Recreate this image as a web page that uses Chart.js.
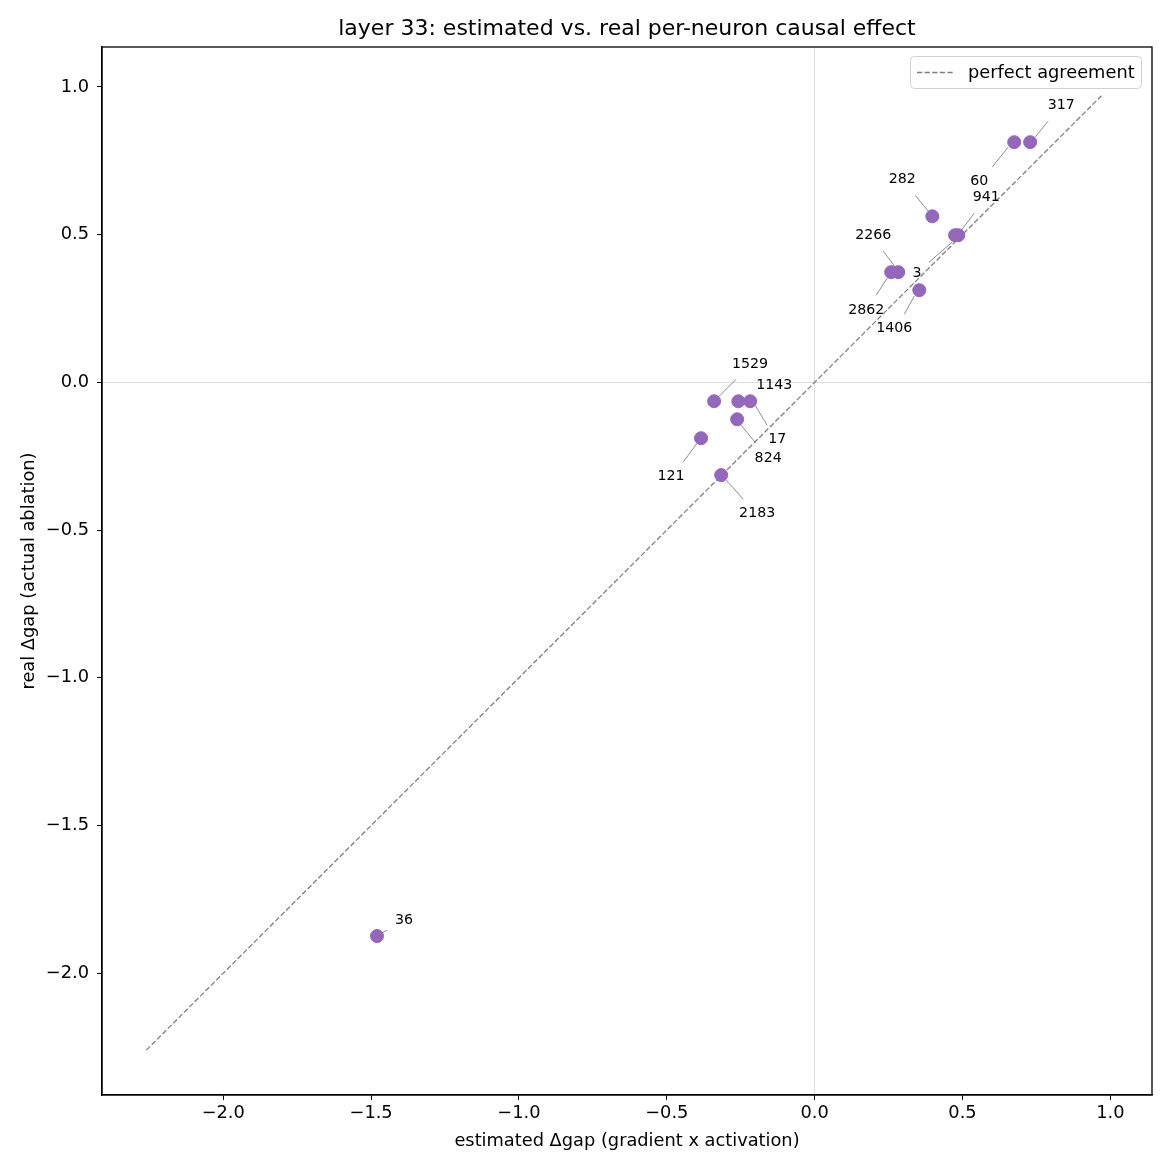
<!DOCTYPE html>
<html>
<head>
<meta charset="utf-8">
<script src="https://cdn.jsdelivr.net/npm/chart.js@4.4.1/dist/chart.umd.min.js"></script>
<style>
  html, body { margin: 0; padding: 0; background: #ffffff; }
  #wrap { width: 1170px; height: 1170px; position: relative; }
</style>
</head>
<body>
<div id="wrap"><canvas id="scatterChart" width="1170" height="1170"></canvas></div>
<script>
// tick labels
const xTicks = [-2.0, -1.5, -1.0, -0.5, 0.0, 0.5, 1.0];
const yTicks = [-2.0, -1.5, -1.0, -0.5, 0.0, 0.5, 1.0];

// neuron ids and their estimated / real effect
const neuronIds = ['317', '60', '282', '941', '3', '2266', '2862', '1406', '1529', '1143', '17', '824', '121', '2183', '36'];
const estimated = [0.729, 0.675, 0.398, 0.486, 0.475, 0.283, 0.259, 0.354, -0.340, -0.258, -0.218, -0.262, -0.384, -0.316, -1.480];
const real = [0.813, 0.813, 0.562, 0.498, 0.498, 0.373, 0.373, 0.312, -0.064, -0.064, -0.064, -0.125, -0.189, -0.314, -1.874];

// perfect agreement line (y = x)
const diagonal = [-2.26, 0.97];

// label placement (pixel offsets from the point): text centre, leader line start/end
const labelText = [[31, -37], [-35, 39], [-30, -37], [28, -38], [-38, 38], [-25, -37], [-25, 38], [-25, 38], [36, -37], [36, -16], [27, 38], [31, 39], [-30, 38], [36, 38], [27, -16]];
const labelLine = [
    [5, -5, 18, -21], [-6, 5, -22, 25], [-4, -5, -17, -21], [3, -5, 16, -22], [-3, 7, -26, 27],
    [-3, -5, -15, -21], [-4, 6, -15, 23], [-5, 6, -15, 24], [4, -4, 22, -22], null,
    [5, 4, 17, 24], [4, 6, 18, 23], [-4, 5, -18, 24], [5, 5, 22, 24], [5, -3, 10, -6]
];

const FONT = "'DejaVu Sans', sans-serif";
Chart.defaults.font.family = FONT;
Chart.defaults.color = '#000000';

const fmt = v => (v < 0 ? '\u2212' : '') + Math.abs(v).toFixed(1);

// box frame, neuron labels and the legend
const decorations = {
    id: 'decorations',
    afterDatasetsDraw(chart) {
        const { ctx, chartArea, scales } = chart;
        ctx.save();

        // leader lines + labels
        ctx.font = '14.2px ' + FONT;
        ctx.textAlign = 'center';
        ctx.textBaseline = 'middle';
        neuronIds.forEach((id, i) => {
            const px = scales.x.getPixelForValue(estimated[i]);
            const py = scales.y.getPixelForValue(real[i]);
            const ln = labelLine[i];
            if (ln) {
                ctx.strokeStyle = '#808080';
                ctx.lineWidth = 0.9;
                ctx.beginPath();
                ctx.moveTo(px + ln[0], py + ln[1]);
                ctx.lineTo(px + ln[2], py + ln[3]);
                ctx.stroke();
            }
            ctx.fillStyle = '#000000';
            ctx.fillText(id, px + labelText[i][0], py + labelText[i][1]);
        });

        // legend
        const lx = chartArea.right - 242, ly = chartArea.top + 9, lw = 231, lh = 32;
        ctx.fillStyle = 'rgba(255,255,255,0.8)';
        ctx.strokeStyle = '#d0d0d0';
        ctx.lineWidth = 1;
        ctx.beginPath();
        ctx.roundRect(lx + 0.5, ly + 0.5, lw, lh, 4);
        ctx.fill();
        ctx.stroke();
        ctx.strokeStyle = '#808080';
        ctx.lineWidth = 1.3;
        ctx.setLineDash([5.3, 2.3]);
        ctx.beginPath();
        ctx.moveTo(lx + 7, ly + lh / 2 + 0.5);
        ctx.lineTo(lx + 44, ly + lh / 2 + 0.5);
        ctx.stroke();
        ctx.setLineDash([]);
        ctx.fillStyle = '#000000';
        ctx.font = '17.8px ' + FONT;
        ctx.textAlign = 'left';
        ctx.fillText('perfect agreement', lx + 58, ly + lh / 2 + 1);

        // spines
        ctx.strokeStyle = '#000000';
        ctx.lineWidth = 1.3;
        ctx.strokeRect(chartArea.left, chartArea.top, chartArea.right - chartArea.left, chartArea.bottom - chartArea.top);
        ctx.restore();
    }
};

new Chart(document.getElementById('scatterChart'), {
    type: 'scatter',
    data: {
        datasets: [
            {
                label: 'neurons',
                data: estimated.map((v, i) => ({ x: v, y: real[i] })),
                backgroundColor: '#9467bd',
                borderColor: '#9467bd',
                pointRadius: 6.5,
                pointHoverRadius: 6.5,
                order: 1
            },
            {
                label: 'perfect agreement',
                type: 'line',
                data: diagonal.map(v => ({ x: v, y: v })),
                borderColor: '#808080',
                borderWidth: 1.3,
                borderDash: [5.3, 2.3],
                pointRadius: 0,
                fill: false,
                order: 2
            }
        ]
    },
    options: {
        responsive: false,
        animation: false,
        layout: { padding: { left: 0, right: 18, top: 0, bottom: 0 } },
        plugins: {
            legend: { display: false },
            tooltip: { enabled: false },
            title: {
                display: true,
                fullSize: false, // centre over the plot area, like matplotlib
                text: 'layer 33: estimated vs. real per-neuron causal effect',
                font: { size: 22, weight: 'normal', family: FONT },
                color: '#000000',
                padding: { top: 16, bottom: 4.6 }
            }
        },
        scales: {
            x: {
                type: 'linear',
                min: -2.41,
                max: 1.141,
                afterBuildTicks: s => { s.ticks = xTicks.map(v => ({ value: v })); },
                afterFit: s => { s.height = 75; },
                ticks: { callback: fmt, font: { size: 17.8 }, color: '#000000', padding: 3, maxRotation: 0 },
                grid: {
                    color: c => (c.tick && c.tick.value === 0 ? '#dddddd' : 'rgba(0,0,0,0)'),
                    tickColor: '#000000',
                    tickLength: 5,
                    lineWidth: 1
                },
                border: { display: true, color: '#000000', width: 1.3 },
                title: {
                    display: true,
                    text: 'estimated \u0394gap (gradient x activation)',
                    font: { size: 17.8 },
                    color: '#000000',
                    padding: { top: 0, bottom: 18 }
                }
            },
            y: {
                type: 'linear',
                min: -2.412,
                max: 1.135,
                afterBuildTicks: s => { s.ticks = yTicks.map(v => ({ value: v })); },
                afterFit: s => { s.width = 102; },
                ticks: { callback: fmt, font: { size: 17.8 }, color: '#000000', padding: 8 },
                grid: {
                    color: c => (c.tick && c.tick.value === 0 ? '#dddddd' : 'rgba(0,0,0,0)'),
                    tickColor: '#000000',
                    tickLength: 5,
                    lineWidth: 1
                },
                border: { display: true, color: '#000000', width: 1.3 },
                title: {
                    display: true,
                    text: 'real \u0394gap (actual ablation)',
                    font: { size: 17.8 },
                    color: '#000000',
                    padding: { top: 19, bottom: 0 }
                }
            }
        }
    },
    plugins: [decorations]
});
</script>
</body>
</html>
